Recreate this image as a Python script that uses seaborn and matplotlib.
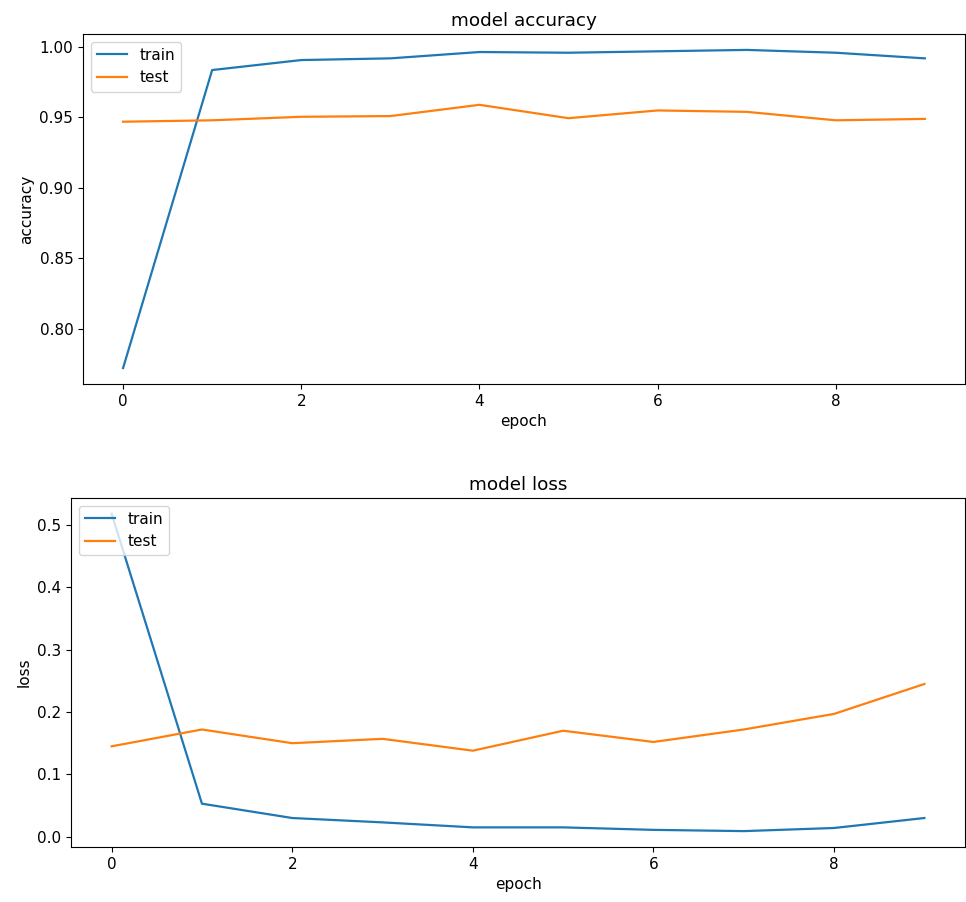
import numpy as np
import pandas as pd
import matplotlib
matplotlib.use("Agg")
import matplotlib.pyplot as plt
import seaborn as sns

# historial de entrenamiento
epochs = [0, 1, 2, 3, 4, 5, 6, 7, 8, 9]
acc_train = [0.772, 0.9837, 0.9908, 0.992, 0.9965, 0.996, 0.997, 0.998, 0.996, 0.992]
acc_test = [0.947, 0.948, 0.9505, 0.951, 0.959, 0.9495, 0.955, 0.954, 0.948, 0.949]
loss_train = [0.518, 0.053, 0.030, 0.023, 0.015, 0.015, 0.011, 0.009, 0.014, 0.030]
loss_test = [0.145, 0.172, 0.150, 0.157, 0.138, 0.170, 0.152, 0.172, 0.197, 0.245]

plt.rcParams["font.size"] = 11

df_acc = pd.DataFrame({"epoch": epochs * 2,
                       "valor": acc_train + acc_test,
                       "serie": ["train"] * 10 + ["test"] * 10})
df_loss = pd.DataFrame({"epoch": epochs * 2,
                        "valor": loss_train + loss_test,
                        "serie": ["train"] * 10 + ["test"] * 10})

fig = plt.figure(figsize=(9.66, 9.02), dpi=100)
ax1 = fig.add_axes([0.0859, 0.5743, 0.913, 0.388])
ax2 = fig.add_axes([0.0735, 0.061, 0.9255, 0.387])

colores = {"train": "#1f77b4", "test": "#ff7f0e"}

# accuracy
sns.lineplot(data=df_acc, x="epoch", y="valor", hue="serie", palette=colores,
             linewidth=1.6, ax=ax1)
ax1.set_title("model accuracy")
ax1.set_ylabel("accuracy")
ax1.set_xlabel("epoch")
ax1.set_yticks([0.80, 0.85, 0.90, 0.95, 1.00])
ax1.set_yticklabels(["0.80", "0.85", "0.90", "0.95", "1.00"])
ax1.legend(loc="upper left", title=None)

# loss
sns.lineplot(data=df_loss, x="epoch", y="valor", hue="serie", palette=colores,
             linewidth=1.6, ax=ax2)
ax2.set_title("model loss")
ax2.set_ylabel("loss")
ax2.set_xlabel("epoch")
ax2.legend(loc="upper left", title=None)

for ax in (ax1, ax2):
    ax.set_xticks([0, 2, 4, 6, 8])

fig.savefig("out.png", dpi=100)
